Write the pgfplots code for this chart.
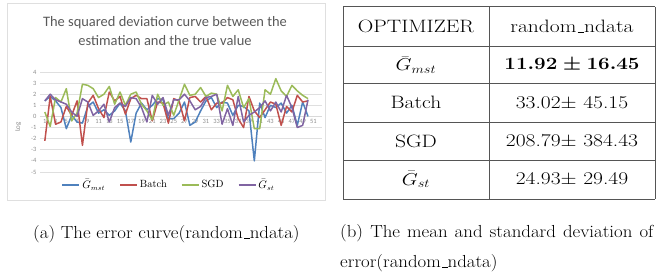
\documentclass[border=0pt]{standalone}
\usepackage{pgfplots}
\pgfplotsset{compat=1.18}
\usepackage{fontspec}
\usepackage{graphicx}
\newfontfamily\calibri{Carlito}
\definecolor{cblue}{HTML}{4F81BD}
\definecolor{cred}{HTML}{C0504D}
\definecolor{cgreen}{HTML}{9BBB59}
\definecolor{cpurple}{HTML}{8064A2}
\definecolor{tgray}{HTML}{595959}
\definecolor{lgray}{HTML}{8C8C8C}
\definecolor{tabline}{HTML}{555555}
\newcommand\us{\leavevmode\kern.06em\vbox{\hrule width.3em height 0.4pt}}
\newcommand\tb[1]{\scalebox{1.2}[1]{\fontsize{18}{20}\selectfont #1}}
\newcommand\capt[1]{\scalebox{1.08}[1]{\fontsize{17.5}{20}\selectfont #1}}

\pgfplotstableread{
x  gmst  batch  sgd  gst
1   1.4  -2.2   0.4   1.4
2   1.8   1.8  -0.9   2.0
3   1.4  -0.7   1.7   1.5
4   0.8  -0.5   1.3   1.3
5  -1.1   0.9   2.5   1.1
6   0.1   0.1  -0.4   0.4
7  -0.5   1.4   0.3   0.0
8  -0.6  -2.6   2.9   1.6
9   0.9   1.2   2.8   1.3
10  1.3   1.9   2.5   0.1
11  0.3   0.7   1.7   0.5
12  0.6  -0.1   2.0   1.1
13  0.1   2.2   2.7  -0.5
14  0.5   1.4   1.1   0.8
15  1.2   1.8   2.2   1.2
16  0.5   0.2   1.0   0.9
17 -2.3   1.6   2.0   1.7
18  0.3   1.9   2.2   1.6
19  1.2   1.6   1.1   0.8
20  0.6   1.6   0.5  -0.5
21  1.0  -0.4  -0.3   1.9
22  1.6   1.3   2.0   1.1
23  1.5   1.2   1.0   1.7
24 -0.2  -0.6   1.3   0.1
25 -0.2   1.6   0.1   1.5
26  0.3   1.4   1.5   1.5
27  1.3  -0.4   2.9   2.0
28 -0.8   1.7   1.9   1.4
29 -0.5   1.8   2.0   0.6
30  0.5   1.3   2.6   0.9
31  1.4   1.8   1.8   1.7
32  1.7   0.6   2.1   1.8
33  0.8   1.2   2.0   2.0
34  1.3   1.2   0.5  -0.7
35  1.2   1.7   2.8   0.7
36  0.1   1.5   1.8  -0.8
37  1.0  -0.2   2.4   1.8
38  0.9  -1.0   0.8  -0.5
39  0.5   1.8   1.6   0.1
40 -4.0   0.5  -1.1   0.4
41  1.2  -0.1  -1.1   0.8
42 -0.1   0.6   2.4   1.4
43  1.0   1.3   2.0   0.5
44  0.8   1.1   3.4   1.3
45  1.2  -0.8   2.3   0.4
46  0.3   0.9   1.8   1.9
47  1.0   0.4   2.8   0.8
48 -0.8   1.9   2.3  -1.0
49  1.3   1.3   1.9  -0.8
50  0.0   1.4   1.6   1.5
}\errdata

\begin{document}
\begin{tikzpicture}[x=1bp,y=1bp]
\path[use as bounding box] (0,0) rectangle (665,273);
% chart frame
\draw[gray!25, line width=0.8bp] (7,73) rectangle (325,270);
\node[font=\calibri\fontsize{14.5}{20}\selectfont, text=tgray, align=center] at (165,242)
  {The squared deviation curve between the\\estimation and the true value};
\begin{axis}[
  at={(40bp,101bp)}, anchor=south west,
  scale only axis, width=282bp, height=100bp,
  xmin=0.1, xmax=52.6, ymin=-5, ymax=4,
  ytick={-5,-4,...,4}, xtick={1,3,...,51},
  axis x line=middle, axis y line=left,
  x axis line style={-, draw=gray!30, line width=0.8bp},
  y axis line style={draw=none},
  hide obscured x ticks=false, hide obscured y ticks=false,
  major tick length=0pt,
  ymajorgrids, major grid style={gray!25, line width=0.8bp},
  /pgf/number format/assume math mode=true,
  ticklabel style={font=\calibri\fontsize{6.5}{7}\selectfont, text=lgray},
  xticklabel style={yshift=1bp},
  ylabel={Log},
  ylabel style={font=\calibri\fontsize{7}{8}\selectfont, text=lgray, at={(-0.055,0.45)}, anchor=south, rotate=0},
  legend columns=4,
  legend style={draw=none, fill=none, at={(0.457,-0.13)}, anchor=center,
    font=\fontsize{10.5}{12}\selectfont,
    /tikz/every even column/.append style={column sep=12bp}},
  legend image code/.code={\draw[#1, line width=1.8bp] (0bp,0bp) -- (17bp,0bp);},
  every axis plot/.append style={line width=1.5bp, mark=none, line join=round},
  clip=false,
]
\addplot[cblue] table[x=x, y=gmst] {\errdata};
\addplot[cred] table[x=x, y=batch] {\errdata};
\addplot[cgreen] table[x=x, y=sgd] {\errdata};
\addplot[cpurple] table[x=x, y=gst] {\errdata};
\legend{$\bar{G}_{mst}$, Batch, SGD, $\bar{G}_{st}$}
\end{axis}
% table
\begin{scope}[tabline, line width=1bp]
\draw (343,266) -- (655,266);
\draw (343,227) -- (655,227);
\draw (343,189.5) -- (655,189.5);
\draw (343,151) -- (655,151);
\draw (343,113) -- (655,113);
\draw (343,74) -- (655,74);
\draw (343,266) -- (343,74);
\draw (489,266) -- (489,74);
\draw (655,266) -- (655,74);
\end{scope}
\node at (416,246.5) {\tb{OPTIMIZER}};
\node at (572,246.5) {\tb{random\us ndata}};
\node at (416,208.25) {\tb{$\bar{G}_{mst}$}};
\node at (572,208.25) {\tb{\boldmath$11.92\pm16.45$}};
\node at (416,170.25) {\tb{Batch}};
\node at (572,170.25) {\tb{33.02$\pm$ 45.15}};
\node at (416,132) {\tb{SGD}};
\node at (572,132) {\tb{208.79$\pm$ 384.43}};
\node at (416,93.5) {\tb{$\bar{G}_{st}$}};
\node at (572,93.5) {\tb{24.93$\pm$ 29.49}};
% captions
\node[anchor=base west, inner sep=0pt] at (33,35) {\capt{(a) The error curve(random\us ndata)}};
\node[anchor=base west, inner sep=0pt] at (340,36) {\capt{\makebox[290bp][s]{(b) The mean and standard deviation of}}};
\node[anchor=base west, inner sep=0pt] at (340,6) {\capt{error(random\us ndata)}};
\end{tikzpicture}
\end{document}
